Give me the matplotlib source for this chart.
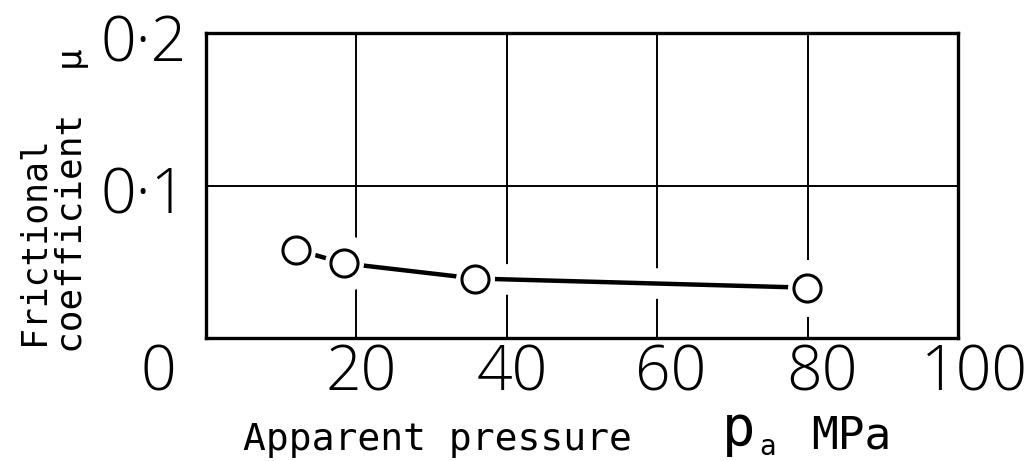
import matplotlib
matplotlib.use("Agg")
import matplotlib.pyplot as plt
from matplotlib.transforms import ScaledTranslation

# measured points: apparent pressure (MPa) vs frictional coefficient
pressure = [12.0, 18.3, 35.8, 79.9]
mu = [0.058, 0.049, 0.039, 0.033]

x_ticks = [0, 20, 40, 60, 80, 100]
x_tick_labels = ["0", "20", "40", "60", "80", "100"]
y_ticks = [0.1, 0.2]
y_tick_labels = ["0·1", "0·2"]

W, H = 1032, 461
digit_font = ["Open Sans", "DejaVu Sans"]
text_font = ["DejaVu Sans Mono", "DejaVu Sans"]


def px(x, y):
    # pixel position -> figure fraction
    return x / W, 1 - y / H


fig = plt.figure(figsize=(W / 100, H / 100), dpi=100)
ax = fig.add_axes([206 / W, 1 - 338 / H, (958 - 206) / W, (338 - 33) / H])

# white halos so the grid breaks around the curve
ax.plot(pressure, mu, color="white", lw=22, solid_capstyle="round", zorder=2)
ax.plot(pressure, mu, ls="none", marker="o", ms=40, mfc="white", mec="white", zorder=2)
# the curve itself
ax.plot(pressure, mu, color="black", lw=3.2, zorder=3)
ax.plot(pressure, mu, ls="none", marker="o", ms=27, mfc="white", mec="white", zorder=4)
ax.plot(pressure, mu, ls="none", marker="o", ms=19.5, mew=2.2, mfc="white", mec="black", zorder=5)

ax.set_xlim(0, 100)
ax.set_ylim(0, 0.2)
ax.set_xticks(x_ticks)
ax.set_xticklabels(x_tick_labels, family=digit_font, fontweight="light", fontsize=45)
ax.set_yticks(y_ticks)
ax.set_yticklabels(y_tick_labels, family=digit_font, fontweight="light", fontsize=45)
ax.tick_params(length=0)
ax.tick_params(axis="x", pad=3)
ax.tick_params(axis="y", pad=14)

ax.set_axisbelow(True)
ax.grid(True, color="black", lw=1.4)
for s in ax.spines.values():
    s.set_linewidth(2.4)

# hand lettered tick labels sit a bit off the grid lines
x_shift = [-48, 5, 6, 13, 14, 16]
for label, dx in zip(ax.get_xticklabels(), x_shift):
    label.set_transform(label.get_transform() + ScaledTranslation(dx / 100, 0, fig.dpi_scale_trans))
for label in ax.get_yticklabels():
    label.set_transform(label.get_transform() + ScaledTranslation(0, -4 / 100, fig.dpi_scale_trans))

# axis titles
fig.text(*px(243, 450), "Apparent pressure", family=text_font, fontsize=27.4,
         ha="left", va="baseline")
fig.text(*px(722, 445), "p", family=text_font, fontsize=40, ha="left", va="baseline")
fig.text(*px(759, 455), "a", family=text_font, fontsize=20, ha="left", va="baseline")
fig.text(*px(811, 448), "MPa", family=text_font, fontsize=32, ha="left", va="baseline")

fig.text(*px(43, 345), "Frictional", family=text_font, fontsize=25, rotation=90,
         rotation_mode="anchor", ha="left", va="baseline")
fig.text(*px(82, 353), "coefficient  μ", family=text_font, fontsize=26, rotation=90,
         rotation_mode="anchor", ha="left", va="baseline")

fig.savefig("out.png", dpi=100)
